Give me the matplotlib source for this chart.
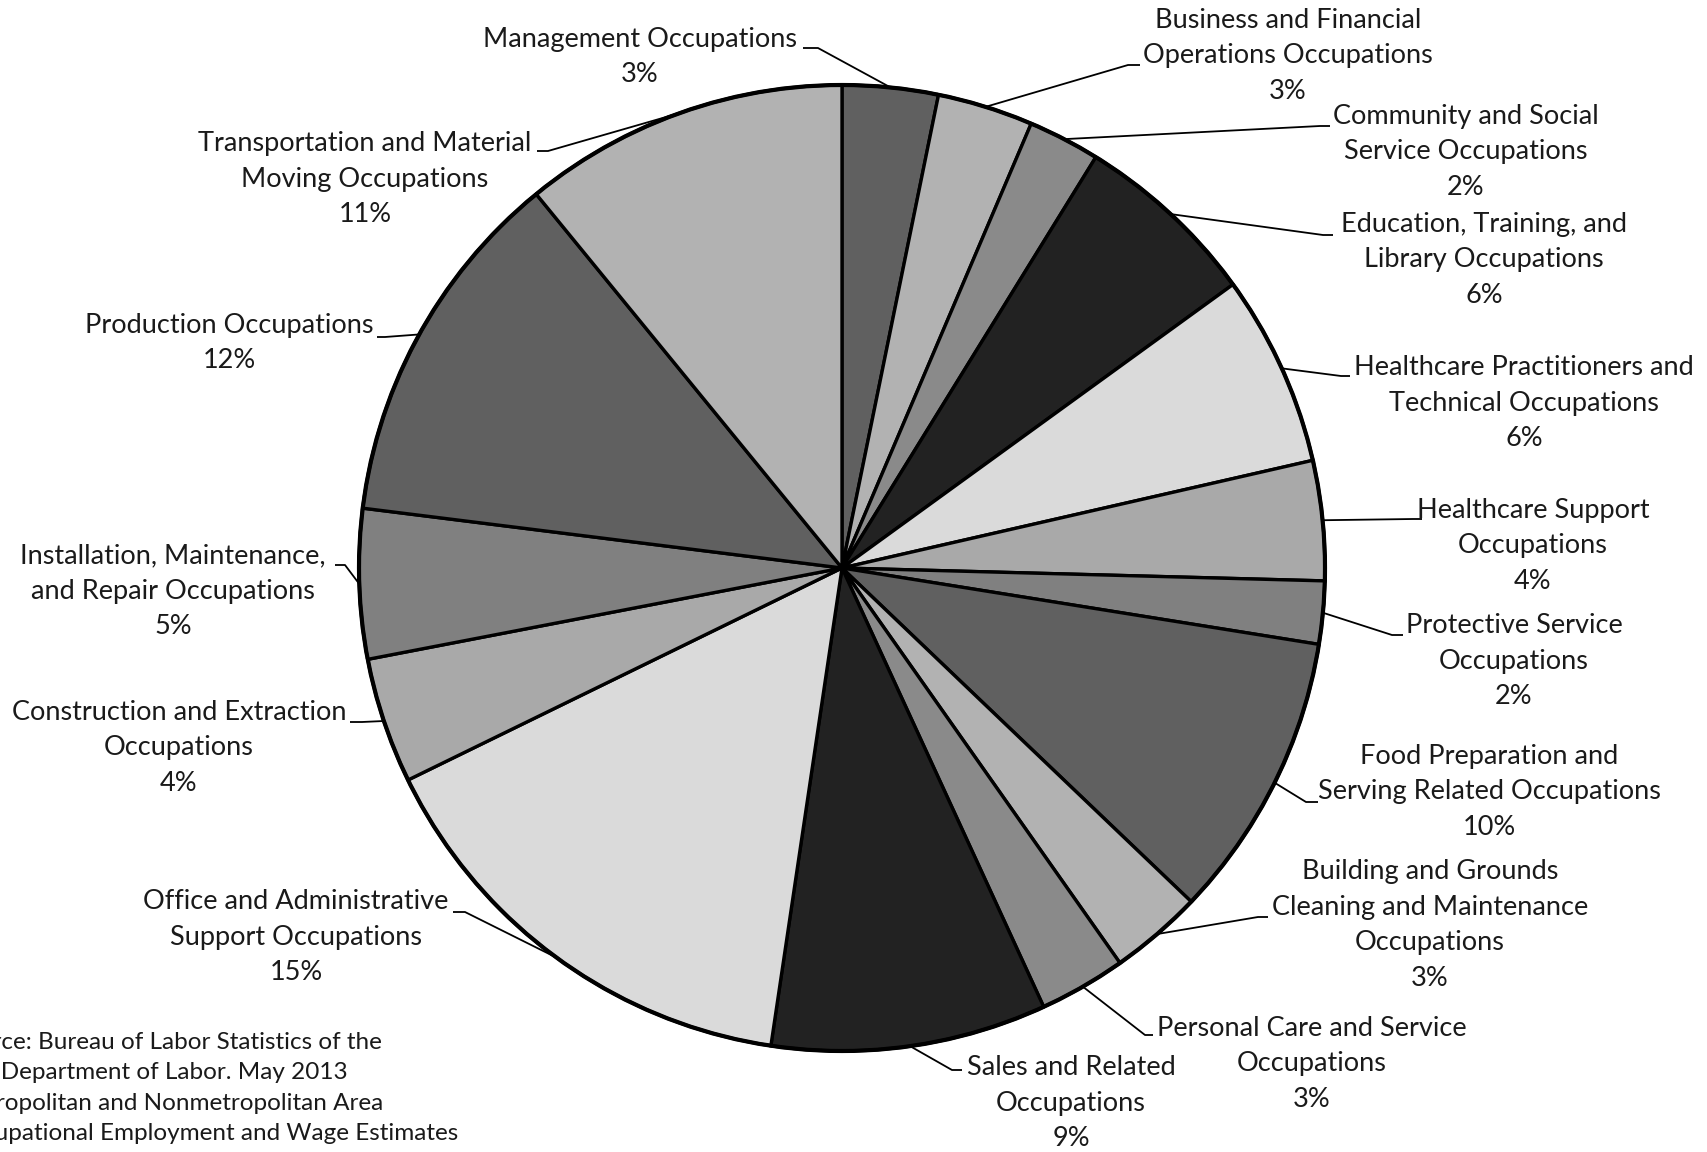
import math
import matplotlib.pyplot as plt
from matplotlib.patches import Circle

# Employment share by major occupational group (percent of total)
occupations = [
    "Management Occupations",
    "Business and Financial\nOperations Occupations",
    "Community and Social\nService Occupations",
    "Education, Training, and\nLibrary Occupations",
    "Healthcare Practitioners and\nTechnical Occupations",
    "Healthcare Support\nOccupations",
    "Protective Service\nOccupations",
    "Food Preparation and\nServing Related Occupations",
    "Building and Grounds\nCleaning and Maintenance\nOccupations",
    "Personal Care and Service\nOccupations",
    "Sales and Related\nOccupations",
    "Office and Administrative\nSupport Occupations",
    "Construction and Extraction\nOccupations",
    "Installation, Maintenance,\nand Repair Occupations",
    "Production Occupations",
    "Transportation and Material\nMoving Occupations",
]
shares = [3.2, 3.2, 2.4, 6.2, 6.4, 4.0, 2.1, 9.6, 3.1, 2.9, 9.2, 15.4, 4.2, 5.0, 12.1, 10.9]

grays = ["#606060", "#b2b2b2", "#8a8a8a", "#222222", "#dadada", "#a9a9a9", "#808080"]

source = ("Source: Bureau of Labor Statistics of the\n"
          "U.S. Department of Labor. May 2013\n"
          "Metropolitan and Nonmetropolitan Area\n"
          "Occupational Employment and Wage Estimates")

# label layout in pixel space: text centre, then leader elbow + end of the short tick
label_pos = [
    (640, 57, (818, 48), (803, 48)),
    (1288, 56, (1128, 65), (1140, 65)),
    (1466, 152, (1320, 126), (1330, 126)),
    (1484, 260, (1323, 235), (1333, 235)),
    (1524, 403, (1341, 376), (1350, 376)),
    (1533, 546, (1413, 519), (1422, 519)),
    (1514, 661, (1392, 635), (1403, 635)),
    (1489, 792, (1306, 802), (1318, 802)),
    (1430, 925, (1258, 917), (1268, 917)),
    (1312, 1064, (1145, 1035), (1153, 1035)),
    (1071, 1103, (952, 1070), (962, 1070)),
    (296, 937, (465, 912), (453, 912)),
    (179, 748, (362, 722), (350, 722)),
    (173, 591, (345, 565), (335, 565)),
    (229, 343, (385, 337), (377, 337)),
    (365, 179, (548, 151), (537, 151)),
]

W, H = 1707, 1152
cx, cy, R = 842, 568, 483

plt.rcParams["font.family"] = ["Lato", "DejaVu Sans"]

fig = plt.figure(figsize=(W / 100, H / 100), dpi=100)
ax = fig.add_axes([0, 0, 1, 1])

# y axis runs downward, so counterclock=True from -90 draws clockwise from 12 o'clock
colors = [grays[i % len(grays)] for i in range(len(shares))]
wedges, _ = ax.pie(shares, colors=colors, startangle=-90, counterclock=True,
                   center=(cx, cy), radius=R,
                   wedgeprops=dict(edgecolor="black", linewidth=2.4))
ax.add_patch(Circle((cx, cy), R, fill=False, edgecolor="black", linewidth=3.0))

ax.set_xlim(0, W)
ax.set_ylim(H, 0)
ax.set_aspect("equal")
ax.axis("off")

total = sum(shares)
for name, val, w, (tx, ty, elbow, tick) in zip(occupations, shares, wedges, label_pos):
    ang = math.radians((w.theta1 + w.theta2) / 2)
    ex = cx + R * math.cos(ang)
    ey = cy + R * math.sin(ang)
    ax.plot([ex, elbow[0], tick[0]], [ey, elbow[1], tick[1]],
            color="black", linewidth=1.3, solid_capstyle="butt")
    ax.text(tx, ty, f"{name}\n{val / total * 100:.0f}%", ha="center", va="center",
            fontsize=19.5, color="#1a1a1a", linespacing=1.52)

ax.text(-48, 1088, source, ha="left", va="center", fontsize=17.5,
        color="#1a1a1a", linespacing=1.54)

fig.savefig("out.png", dpi=100)
